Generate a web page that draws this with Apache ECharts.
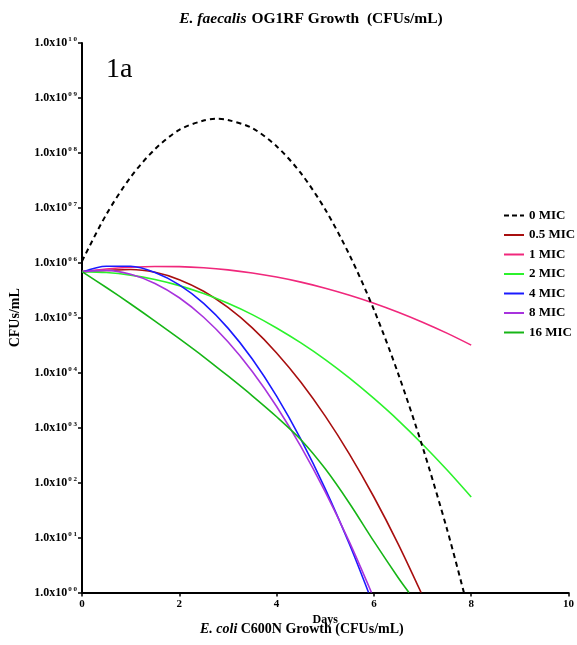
<!DOCTYPE html>
<html><head><meta charset="utf-8">
<script src="https://cdn.jsdelivr.net/npm/echarts@6/dist/echarts.min.js"></script>
<style>html,body{margin:0;padding:0;background:#fff}#c{width:577px;height:645px}</style>
</head><body><div id="c"></div>
<script>
// ---- data (CFUs/mL vs Days) ----
const seriesNames = ['0 MIC','0.5 MIC','1 MIC','2 MIC','4 MIC','8 MIC','16 MIC'];
const daysMic0   = [0,0.5,1,1.5,2,2.5,2.75,3,3.5,4,4.5,5,5.5,6,6.5,7,7.5,7.85];
const cfuMic0    = [1.07e6,7.59e6,3.63e7,1.17e8,2.63e8,3.89e8,4.17e8,3.98e8,2.82e8,1.32e8,4.27e7,9.33e6,1.38e6,1.41e5,9.55e3,447,14.5,1.0];
const daysMic05  = [0,0.5,1,1.5,2,2.5,3,3.5,4,4.5,5,5.5,6,6.5,6.97];
const cfuMic05   = [6.92e5,7.24e5,7.55e5,6.71e5,4.94e5,3.03e5,1.54e5,6.53e4,2.29e4,6.70e3,1.62e3,327,54.7,7.62,1.0];
const daysMic1   = [0,0.5,1,1.5,2,2.5,3,3.5,4,4.5,5,5.5,6,6.5,7,7.5,8];
const cfuMic1    = [6.84e5,7.69e5,8.28e5,8.57e5,8.51e5,8.11e5,7.43e5,6.52e5,5.50e5,4.45e5,3.45e5,2.57e5,1.84e5,1.26e5,8.30e4,5.25e4,3.18e4];
const daysMic2   = [0,0.5,1,1.5,2,2.5,3,3.5,4,4.5,5,5.5,6,6.5,7,7.5,8];
const cfuMic2    = [6.92e5,6.67e5,5.97e5,4.97e5,3.84e5,2.75e5,1.83e5,1.14e5,6.52e4,3.48e4,1.73e4,7.96e3,3.40e3,1.36e3,500,171,54.7];
const daysMic4   = [0,0.5,1,1.5,2,2.5,3,3.5,4,4.5,5,5.5,5.89];
const cfuMic4    = [6.76e5,8.63e5,8.63e5,6.65e5,3.96e5,1.82e5,6.47e4,1.77e4,3.74e3,611,76.9,7.46,1.0];
const daysMic8   = [0,0.5,1,1.5,2,2.5,3,3.5,4,4.5,5,5.5,5.95];
const cfuMic8    = [6.92e5,7.28e5,6.17e5,4.21e5,2.31e5,1.02e5,3.65e4,1.05e4,2.42e3,451,67.6,8.17,1.0];
const daysMic16  = [0,0.5,1,1.5,2,2.5,3,3.5,4,4.5,5,5.5,6,6.5,6.72];
const cfuMic16   = [6.92e5,3.55e5,1.78e5,8.71e4,4.17e4,1.95e4,8.71e3,3.80e3,1.58e3,603,178,41.7,8.51,1.86,1.0];
const xTicks = [0,2,4,6,8,10];
const yExponents = [0,1,2,3,4,5,6,7,8,9,10];

const colors = ['#000000','#a80f0f','#f0287c','#2cf22c','#1a1aff','#a833dd','#16b516'];
const daysList = [daysMic0,daysMic05,daysMic1,daysMic2,daysMic4,daysMic8,daysMic16];
const cfuList  = [cfuMic0,cfuMic05,cfuMic1,cfuMic2,cfuMic4,cfuMic8,cfuMic16];

const serif = '"Liberation Serif","Times New Roman",serif';
const chart = echarts.init(document.getElementById('c'));

const series = seriesNames.map((n,i)=>({
  name:n, type:'line', smooth:0.3, symbol:'none',
  data: daysList[i].map((d,k)=>[d,cfuList[i][k]]),
  lineStyle:{color:colors[i], width: i===0?2:1.6, type: i===0?[5,4]:'solid'},
  itemStyle:{color:colors[i]}, clip:true, z: i===0?3:2
}));

const dashIcon = 'path://M0,0h5v2h-5z M8,0h5v2h-5z M16,0h4v2h-4z';
const legendData = seriesNames.map((n,i)=>({name:n, icon: i===0? dashIcon : 'rect'}));

chart.setOption({
  animation:false,
  title:{
    text:'{i|E. faecalis} {b|OG1RF Growth  (CFUs/mL)}',
    left:306, top:5, textAlign:'center',
    textStyle:{rich:{
      i:{fontFamily:serif,fontSize:15.5,fontWeight:'bold',fontStyle:'italic',color:'#000'},
      b:{fontFamily:serif,fontSize:15.5,fontWeight:'bold',color:'#000'}
    }}
  },
  legend:{
    orient:'vertical', left:499, top:204, itemWidth:20, itemHeight:2, itemGap:6.5,
    data:legendData, textStyle:{fontFamily:serif,fontSize:13,fontWeight:'bold',color:'#000'}
  },
  grid:{left:82, right:8, top:43, bottom:52.5, containLabel:false},
  xAxis:{
    type:'value', min:0, max:10, interval:2,
    name:'Days', nameLocation:'middle', nameGap:15,
    nameTextStyle:{fontFamily:serif,fontSize:12,fontWeight:'bold',color:'#000'},
    axisLine:{lineStyle:{color:'#000',width:2}},
    axisTick:{show:true,length:4,lineStyle:{color:'#000',width:1.5}},
    axisLabel:{fontFamily:serif,fontSize:11,fontWeight:'bold',color:'#000',margin:6,
      formatter:v=> xTicks.includes(v)? String(v):''},
    splitLine:{show:false}
  },
  yAxis:{
    type:'log', logBase:10, min:1, max:1e10, interval:1, splitNumber:10,
    name:'CFUs/mL', nameLocation:'middle', nameGap:60,
    nameTextStyle:{fontFamily:serif,fontSize:14,fontWeight:'bold',color:'#000'},
    axisLine:{lineStyle:{color:'#000',width:2}},
    axisTick:{show:true,length:4,lineStyle:{color:'#000',width:1.5}},
    minorTick:{show:false},
    axisLabel:{margin:5, formatter:v=>{
        const e = Math.round(Math.log10(v));
        if(!yExponents.includes(e)) return '';
        const s = String(e).padStart(2,'0');
        return '{a|1.0x10}{b|'+s[0]+' '+s[1]+'}';
      },
      rich:{
        a:{fontFamily:serif,fontSize:12,fontWeight:'bold',color:'#000',lineHeight:14},
        b:{fontFamily:serif,fontSize:7,fontWeight:'bold',color:'#000',verticalAlign:'top',lineHeight:14,padding:[0,0,0,1]}
      }
    },
    splitLine:{show:false}
  },
  graphic:[
    {type:'text', left:106, top:56, style:{text:'1a', font:'28px '+serif, fill:'#000'}},
    {type:'text', left:200, top:622, style:{
      text:'{i|E. coli} {b|C600N Growth (CFUs/mL)}',
      rich:{
        i:{fontFamily:serif,fontSize:14,fontWeight:'bold',fontStyle:'italic',fill:'#000'},
        b:{fontFamily:serif,fontSize:14,fontWeight:'bold',fill:'#000'}
      }}}
  ],
  series
});
</script></body></html>
